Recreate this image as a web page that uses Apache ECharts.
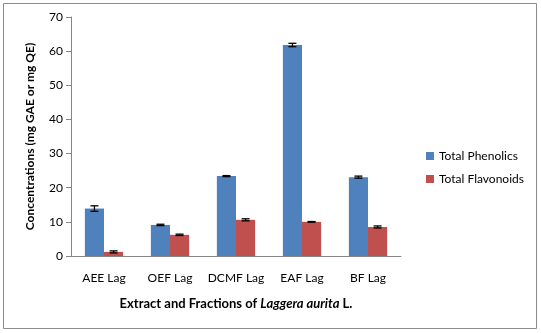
<!DOCTYPE html>
<html><head><meta charset="utf-8">
<script src="https://cdn.jsdelivr.net/npm/echarts@6/dist/echarts.min.js"></script>
<style>html,body{margin:0;padding:0;background:#fff}#c{width:541px;height:333px}</style>
</head><body><div id="c"></div>
<script>
var categories = ['AEE Lag', 'OEF Lag', 'DCMF Lag', 'EAF Lag', 'BF Lag'];
var phenolics = [13.9, 9.1, 23.4, 61.8, 23.1];
var phenolicsErr = [0.8, 0.2, 0.15, 0.5, 0.3];
var flavonoids = [1.2, 6.2, 10.6, 10.0, 8.5];
var flavonoidsErr = [0.3, 0.2, 0.3, 0.1, 0.3];
var yTicks = [0, 10, 20, 30, 40, 50, 60, 70];

var FONT = 'Lato';
var BAR_FRAC = 0.29;

function errSeries(name, vals, errs, side) {
  return {
    type: 'custom', name: name + ' err', silent: true, z: 10,
    data: vals.map(function (v, i) { return [i, v, errs[i]]; }),
    renderItem: function (params, api) {
      var i = api.value(0), v = api.value(1), e = api.value(2);
      var band = api.size([1, 0])[0];
      var bw = band * BAR_FRAC;
      var c = api.coord([i, v]);
      var x = c[0] + side * bw / 2;
      var hi = api.coord([i, v + e])[1];
      var lo = api.coord([i, v - e])[1];
      var w = 4;
      var st = { stroke: '#000', lineWidth: 1.3 };
      return { type: 'group', children: [
        { type: 'line', shape: { x1: x, y1: hi, x2: x, y2: lo }, style: st },
        { type: 'line', shape: { x1: x - w, y1: hi, x2: x + w, y2: hi }, style: st },
        { type: 'line', shape: { x1: x - w, y1: lo, x2: x + w, y2: lo }, style: st }
      ]};
    }
  };
}

var chart = echarts.init(document.getElementById('c'));
chart.setOption({
  animation: false,
  textStyle: { fontFamily: FONT },
  graphic: [{ type: 'rect', shape: { x: 3.5, y: 3.5, width: 533, height: 325 }, style: { fill: 'none', stroke: '#8c8c8c', lineWidth: 1 } }],
  grid: { left: 71, top: 17, right: 140, bottom: 77 },
  legend: {
    orient: 'vertical', left: 421, top: 145, itemWidth: 8, itemHeight: 8, itemGap: 11,
    icon: 'rect',
    textStyle: { fontFamily: FONT, fontSize: 12, color: '#000' },
    data: ['Total Phenolics', 'Total Flavonoids']
  },
  xAxis: {
    type: 'category', data: categories,
    axisLine: { lineStyle: { color: '#868686' } },
    axisTick: { length: 5, lineStyle: { color: '#868686' } },
    axisLabel: { color: '#000', fontSize: 12, fontFamily: FONT, margin: 16, interval: 0 },
    name: 'Extract and Fractions of {i|Laggera aurita} L.',
    nameLocation: 'middle', nameGap: 41,
    nameTextStyle: { color: '#000', fontSize: 13, fontWeight: 'bold', fontFamily: FONT,
      rich: { i: { fontStyle: 'italic', fontWeight: 'bold', fontSize: 13, fontFamily: FONT, color: '#000' } } }
  },
  yAxis: {
    type: 'value', min: 0, max: 70, interval: 10,
    axisLine: { show: true, lineStyle: { color: '#868686' } },
    axisTick: { show: true, length: 5, lineStyle: { color: '#868686' } },
    splitLine: { show: false },
    axisLabel: { color: '#000', fontSize: 12, fontFamily: FONT, margin: 8,
      formatter: function (v) { return yTicks.indexOf(v) >= 0 ? String(v) : ''; } },
    name: 'Concentrations (mg GAE or mg QE)',
    nameLocation: 'middle', nameGap: 35,
    nameTextStyle: { color: '#000', fontSize: 12, fontWeight: 'bold', fontFamily: FONT }
  },
  series: [
    { type: 'bar', name: 'Total Phenolics', data: phenolics, barGap: '0%', barCategoryGap: '42%',
      itemStyle: { color: '#4F81BD' } },
    { type: 'bar', name: 'Total Flavonoids', data: flavonoids, barGap: '0%', barCategoryGap: '42%',
      itemStyle: { color: '#C0504D' } },
    errSeries('Total Phenolics', phenolics, phenolicsErr, -1),
    errSeries('Total Flavonoids', flavonoids, flavonoidsErr, 1)
  ]
});
</script></body></html>
